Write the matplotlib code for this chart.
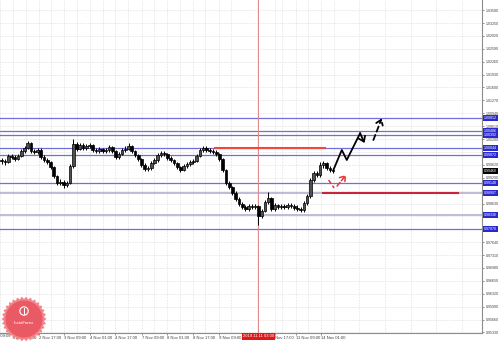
import numpy as np
import matplotlib
matplotlib.use("Agg")
import matplotlib.pyplot as plt
import matplotlib.transforms as mtransforms

plt.rcParams["font.family"] = ["Liberation Sans", "DejaVu Sans"]

# ---- price data (H1 candles, open = previous close) ----
FIRST_OPEN = 0.9974
closes = [0.9972, 0.9969, 0.9985, 0.9982, 0.9977, 0.9985, 0.9997, 1.0005, 1.0018, 0.9997,
          0.9995, 1.0000, 0.9982, 0.9974, 0.9969, 0.9956, 0.9933, 0.9916, 0.9918, 0.9910,
          0.9916, 0.9959, 1.0015, 1.0003, 1.0013, 1.0005, 1.0010, 1.0013, 1.0000, 0.9997,
          1.0003, 0.9997, 1.0000, 1.0008, 0.9997, 0.9982, 0.9990, 1.0000, 1.0003, 1.0010,
          0.9997, 0.9987, 0.9977, 0.9962, 0.9951, 0.9954, 0.9967, 0.9974, 0.9987, 0.9992,
          0.9990, 0.9980, 0.9974, 0.9967, 0.9956, 0.9949, 0.9959, 0.9964, 0.9969, 0.9972,
          0.9985, 1.0000, 1.0005, 1.0000, 0.9997, 0.9996, 0.9990, 0.9977, 0.9949, 0.9916,
          0.9905, 0.9890, 0.9875, 0.9862, 0.9854, 0.9849, 0.9857, 0.9854, 0.9857, 0.9831,
          0.9844, 0.9867, 0.9877, 0.9849, 0.9859, 0.9854, 0.9857, 0.9854, 0.9859, 0.9857,
          0.9852, 0.9849, 0.9846, 0.9864, 0.9882, 0.9923, 0.9941, 0.9936, 0.9962, 0.9967,
          0.9954, 0.9949, 0.9946]
highs = [0.9980, 0.9978, 0.9990, 0.9989, 0.9986, 0.9990, 1.0002, 1.0010, 1.0023, 1.0021,
         1.0003, 1.0006, 1.0004, 0.9986, 0.9979, 0.9972, 0.9959, 0.9937, 0.9925, 0.9922,
         0.9921, 0.9963, 1.0028, 1.0020, 1.0018, 1.0017, 1.0015, 1.0019, 1.0016, 1.0005,
         1.0008, 1.0006, 1.0005, 1.0013, 1.0011, 1.0000, 0.9995, 1.0005, 1.0009, 1.0017,
         1.0013, 1.0000, 0.9990, 0.9980, 0.9966, 0.9960, 0.9972, 0.9979, 0.9992, 0.9998,
         0.9997, 0.9993, 0.9984, 0.9978, 0.9970, 0.9960, 0.9964, 0.9969, 0.9974, 0.9977,
         0.9990, 1.0005, 1.0011, 1.0009, 1.0004, 1.0002, 1.0000, 0.9993, 0.9980, 0.9952,
         0.9921, 0.9909, 0.9894, 0.9879, 0.9867, 0.9859, 0.9862, 0.9862, 0.9863, 0.9860,
         0.9850, 0.9872, 0.9892, 0.9880, 0.9865, 0.9863, 0.9863, 0.9861, 0.9865, 0.9864,
         0.9862, 0.9858, 0.9855, 0.9869, 0.9887, 0.9928, 0.9947, 0.9946, 0.9970, 0.9973,
         0.9970, 0.9958, 0.9953]
lows = [0.9965, 0.9962, 0.9966, 0.9978, 0.9972, 0.9974, 0.9982, 0.9993, 1.0002, 0.9993,
        0.9990, 0.9991, 0.9978, 0.9970, 0.9964, 0.9951, 0.9928, 0.9911, 0.9910, 0.9903,
        0.9906, 0.9912, 0.9955, 0.9998, 0.9999, 1.0000, 1.0001, 1.0006, 0.9996, 0.9992,
        0.9993, 0.9992, 0.9993, 0.9996, 0.9993, 0.9977, 0.9978, 0.9987, 0.9996, 1.0000,
        0.9993, 0.9982, 0.9972, 0.9957, 0.9946, 0.9946, 0.9950, 0.9963, 0.9970, 0.9983,
        0.9985, 0.9975, 0.9969, 0.9962, 0.9951, 0.9944, 0.9945, 0.9955, 0.9960, 0.9965,
        0.9968, 0.9981, 0.9996, 0.9995, 0.9992, 0.9991, 0.9985, 0.9972, 0.9944, 0.9911,
        0.9899, 0.9885, 0.9870, 0.9857, 0.9849, 0.9843, 0.9845, 0.9849, 0.9850, 0.9808,
        0.9826, 0.9840, 0.9862, 0.9844, 0.9845, 0.9849, 0.9850, 0.9848, 0.9850, 0.9852,
        0.9847, 0.9843, 0.9840, 0.9842, 0.9860, 0.9878, 0.9918, 0.9930, 0.9932, 0.9955,
        0.9950, 0.9944, 0.9941]

# horizontal levels (blue), two of them drawn faint grey-blue
level_prices = [1.00812, 1.00486, 1.00392, 1.00044, 0.99872,
                0.99148, 0.98907, 0.98336, 0.97970]
faint_levels = [0.98907, 0.98336]

# red resistance / support segments: (start bar, end bar, price)
red_upper = (65.7, 99.5, 1.00044)
red_lower = (98.9, 140.4, 0.98892)
vline_bar = 79
vline_label = "2019.11.11 03:00"

# forecast drawings
black_path_x = [102.06, 104.65, 106.18, 110.28]
black_path_y = [0.99488, 1.00000, 0.99744, 1.00428]
black_tip = (111.66, 1.00179)
black_dash_x = [114.37, 116.95]
black_dash_y = [1.00256, 1.00812]
red_path_x = [100.58, 102.28]
red_path_y = [0.99232, 0.99027]
red_arrow_x = [103.2, 105.97]
red_arrow_y = [0.99078, 0.99360]

# axis ticks
ytick_values = [1.03580, 1.03250, 1.02920, 1.02590, 1.02260, 1.01930, 1.01600, 1.01270,
                1.00940, 1.00610, 1.00280, 0.99950, 0.99620, 0.99290, 0.98960, 0.98630,
                0.98300, 0.97970, 0.97640, 0.97310, 0.96980, 0.96650, 0.96320, 0.95990,
                0.95660, 0.95330]
xtick_bars = [3.4, 11.3, 19.0, 27.2, 34.9, 43.1, 50.8, 59.0, 66.7, 84.0, 90.4, 98.3]
xtick_labels = ["31 Oct 01:00", "2 Nov 17:00", "3 Nov 09:00", "4 Nov 01:00", "4 Nov 17:00",
                "7 Nov 09:00", "8 Nov 01:00", "8 Nov 17:00", "9 Nov 09:00",
                "Nov 17:00", "11 Nov 09:00", "14 Nov 01:00"]
first_partial_label = (-4.5, "30 Oct 09:00")

TICK_FS = 2.6
XTICK_FS = 3.0
W, H = 499, 341

fig = plt.figure(figsize=(W / 100, H / 100), dpi=100)
ax = fig.add_axes([0, 8 / H, 482 / W, 333 / H])
ax.set_xlim(-0.49, 147.8)
ax.set_ylim(0.95315, 1.0384)

# y labels hidden where a price box sits on top of them (as on the terminal)
box_prices = level_prices + [closes[-1]]
ylabels = ["" if min(abs(v - b) for b in box_prices) < 0.0011 else f"{v:.5f}"
           for v in ytick_values]

ax.set_yticks(ytick_values)
ax.set_yticklabels(ylabels)
ax.set_xticks(xtick_bars)
ax.set_xticklabels(xtick_labels)
ax.set_xticks([3.4 + 3.95 * k for k in range(-1, 37, 2)], minor=True)
ax.grid(True, which="both", linestyle=(0, (1, 1.5)), color="#cccccc", linewidth=0.45)
ax.set_axisbelow(True)

ax.yaxis.tick_right()
ax.tick_params(axis="y", which="major", labelsize=TICK_FS, length=1.5, width=0.4,
               pad=1, colors="#404040")
ax.tick_params(axis="x", which="major", labelsize=XTICK_FS, length=1.5, width=0.4,
               pad=0.6, colors="#404040")
ax.tick_params(axis="x", which="minor", length=0)
for lbl in ax.get_xticklabels():
    lbl.set_ha("left")
ax.text(first_partial_label[0], -0.004, first_partial_label[1], fontsize=XTICK_FS,
        color="#404040", ha="left", va="top",
        transform=mtransforms.blended_transform_factory(ax.transData, ax.transAxes),
        clip_on=False)
for side in ["top", "left"]:
    ax.spines[side].set_visible(False)
for side in ["right", "bottom"]:
    ax.spines[side].set_color("#8c8c8c")
    ax.spines[side].set_linewidth(0.8)

# horizontal levels
for p in level_prices:
    if p in faint_levels:
        ax.axhline(p, color="#b0b0d0", linewidth=1.2, zorder=2)
    else:
        ax.axhline(p, color="#7070dc", linewidth=0.9, zorder=2)

# vertical marker line
ax.axvline(vline_bar, color="#e08a8a", linewidth=0.7, zorder=2)

# candles
closes_a = np.array(closes)
opens_a = np.r_[FIRST_OPEN, closes_a[:-1]]
idx = np.arange(len(closes_a))
ax.vlines(idx, lows, highs, color="black", linewidth=0.7, zorder=3)
up = closes_a >= opens_a
ax.bar(idx[up], (closes_a - opens_a)[up], bottom=opens_a[up], width=0.8,
       facecolor="#505050", edgecolor="black", linewidth=0.5, zorder=4)
ax.bar(idx[~up], (opens_a - closes_a)[~up], bottom=closes_a[~up], width=0.8,
       facecolor="black", edgecolor="black", linewidth=0.5, zorder=4)

# red segments
ax.plot(red_upper[:2], [red_upper[2]] * 2, color="#f0483e", linewidth=1.5, zorder=5)
ax.plot(red_lower[:2], [red_lower[2]] * 2, color="#c8243c", linewidth=1.5, zorder=5)

# forecast paths
ax.plot(black_path_x, black_path_y, color="black", linewidth=1.3, zorder=6)
ax.annotate("", xy=black_tip, xytext=(black_path_x[-1], black_path_y[-1]),
            arrowprops=dict(arrowstyle="->,head_length=0.35,head_width=0.25",
                            color="black", lw=1.3, shrinkA=0, shrinkB=0), zorder=6)
ax.annotate("", xy=(black_dash_x[1], black_dash_y[1]), xytext=(black_dash_x[0], black_dash_y[0]),
            arrowprops=dict(arrowstyle="->,head_length=0.35,head_width=0.25",
                            color="black", lw=1.3, linestyle=(0, (3, 2)),
                            shrinkA=0, shrinkB=0), zorder=6)
ax.plot(red_path_x, red_path_y, color="#e8343c", linewidth=1.1, linestyle=(0, (3, 1.5)), zorder=6)
ax.annotate("", xy=(red_arrow_x[1], red_arrow_y[1]), xytext=(red_arrow_x[0], red_arrow_y[0]),
            arrowprops=dict(arrowstyle="->,head_length=0.35,head_width=0.25",
                            color="#e8343c", lw=1.1, linestyle=(0, (3, 1.5)),
                            shrinkA=0, shrinkB=0), zorder=6)

# price boxes on the right axis
box_tr = mtransforms.blended_transform_factory(ax.transAxes, ax.transData)
for p in level_prices:
    ax.text(1.004, p, f"{p:.5f}", transform=box_tr, fontsize=TICK_FS, color="white",
            ha="left", va="center", clip_on=False, zorder=10,
            bbox=dict(boxstyle="square,pad=0.3", fc="#2a2acc", ec="none"))
ax.text(1.004, closes[-1], f"{closes[-1]:.5f}", transform=box_tr, fontsize=TICK_FS,
        color="white", ha="left", va="center", clip_on=False, zorder=10,
        bbox=dict(boxstyle="square,pad=0.3", fc="black", ec="none"))

# date box on the time axis
ax.text(vline_bar, -0.004, vline_label, fontsize=XTICK_FS, color="white", ha="center", va="top",
        transform=mtransforms.blended_transform_factory(ax.transData, ax.transAxes),
        clip_on=False, zorder=10,
        bbox=dict(boxstyle="square,pad=0.3", fc="#e01818", ec="none"))

# watermark badge
lax = fig.add_axes([0, -2 / H, 48 / W, 48 / H])
lax.set_xlim(-24, 24)
lax.set_ylim(-24, 24)
lax.axis("off")
ang = np.linspace(0, 2 * np.pi, 61)[:-1]
rad = np.where(np.arange(60) % 2 == 0, 22.5, 20.0)
lax.add_patch(plt.Polygon(np.c_[rad * np.cos(ang), rad * np.sin(ang)],
                          closed=True, fc="#f2848a", ec="none"))
lax.add_patch(plt.Circle((0, 0), 18.5, fc="#ea5a64", ec="none"))
lax.add_patch(plt.Circle((0, 8), 4.2, fc="none", ec="white", lw=0.8))
lax.plot([0, 0], [5, 11], color="white", lw=0.7)
lax.text(0, -4, "InstaForex", fontsize=3.2, color="white", ha="center", va="center")

fig.savefig("out.png", dpi=100)
